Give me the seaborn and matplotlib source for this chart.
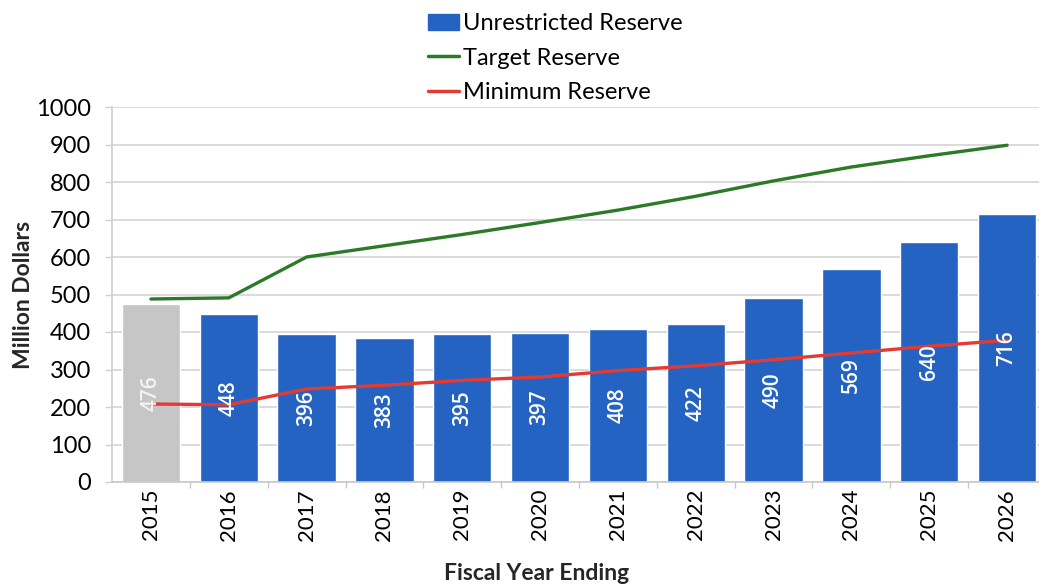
import matplotlib
matplotlib.use("Agg")
import matplotlib.pyplot as plt
from matplotlib.patches import Patch
from matplotlib.lines import Line2D
from matplotlib.ticker import FixedLocator
import seaborn as sns
import pandas as pd

years = ["2015", "2016", "2017", "2018", "2019", "2020",
         "2021", "2022", "2023", "2024", "2025", "2026"]
unrestricted = [476, 448, 396, 383, 395, 397, 408, 422, 490, 569, 640, 716]
target = [488, 491, 600, 630, 660, 692, 725, 762, 803, 840, 870, 898]
minimum = [208, 206, 248, 258, 271, 280, 297, 310, 326, 344, 362, 378]

blue = "#2563C3"
gray = "#C6C6C6"
green = "#2B7A28"
red = "#E23B33"

sns.set_theme(style="white")
plt.rcParams["font.family"] = ["Lato", "DejaVu Sans"]
plt.rcParams["text.color"] = "black"

df = pd.DataFrame({"year": years, "unrestricted": unrestricted,
                   "target": target, "minimum": minimum})
df["pos"] = range(len(df))

fig = plt.figure(figsize=(10.39, 5.86), dpi=100)
W, H = 1039, 586
ax = fig.add_axes([112 / W, (H - 482) / H, (1046 - 112) / W, 375 / H])

bar_colors = [gray] + [blue] * (len(years) - 1)
sns.barplot(data=df, x="year", y="unrestricted", hue="year",
            palette=bar_colors, legend=False, width=0.75,
            saturation=1, ax=ax, zorder=2)

sns.lineplot(data=df, x="pos", y="target", color=green, lw=2.4, ax=ax, zorder=3)
sns.lineplot(data=df, x="pos", y="minimum", color=red, lw=2.4, ax=ax, zorder=3)

# Value labels inside each bar, centred and rotated
for i, v in enumerate(unrestricted):
    ax.text(i, v / 2, str(v), rotation=90, ha="center", va="center",
            color="white" if i else "#F4F4F4", fontsize=15, fontweight="semibold",
            family=["Open Sans", "DejaVu Sans"], zorder=4)

ax.set_xlim(-0.5, len(years) - 0.5)
ax.set_ylim(0, 1000)
ax.set_yticks(range(0, 1001, 100))
ax.yaxis.grid(True, color="#D4D4D4", lw=1.2)
ax.set_axisbelow(True)

for s in ["top", "right"]:
    ax.spines[s].set_visible(False)
ax.spines["left"].set_color("#D0D0D0")
ax.spines["bottom"].set_color("#C8C8C8")
ax.spines["left"].set_linewidth(1.2)
ax.spines["bottom"].set_linewidth(1.2)

ax.tick_params(axis="y", labelsize=17, colors="#D0D0D0", labelcolor="black",
               length=5, width=1.0, left=True, pad=10)
ax.tick_params(axis="x", labelsize=16, rotation=90, length=0, pad=5,
               labelcolor="black")
ax.xaxis.set_minor_locator(FixedLocator([i + 0.5 for i in range(len(years))]))
ax.tick_params(axis="x", which="minor", bottom=True, length=4,
               color="#C8C8C8", width=1.0)

ax.set_xlabel("Fiscal Year Ending", fontsize=16.5, fontweight="bold")
ax.xaxis.set_label_coords((537 - 112) / 934, -(573 - 482) / 375)
ax.xaxis.label.set_va("center")
ax.set_ylabel("Million Dollars", fontsize=16.5, fontweight="bold")
ax.yaxis.set_label_coords((24 - 112) / 934, 0.5)
ax.yaxis.label.set_va("center")

handles = [Patch(facecolor=blue, edgecolor=blue),
           Line2D([0], [0], color=green, lw=2.5),
           Line2D([0], [0], color=red, lw=2.5)]
labels = ["Unrestricted Reserve", "Target Reserve", "Minimum Reserve"]
fig.legend(handles, labels, loc="upper left",
           bbox_to_anchor=(419 / W, 1 - 4 / H), frameon=False,
           fontsize=17, handlelength=1.3, handletextpad=0.15,
           labelspacing=0.56, borderaxespad=0)

fig.savefig("out.png", dpi=100)
